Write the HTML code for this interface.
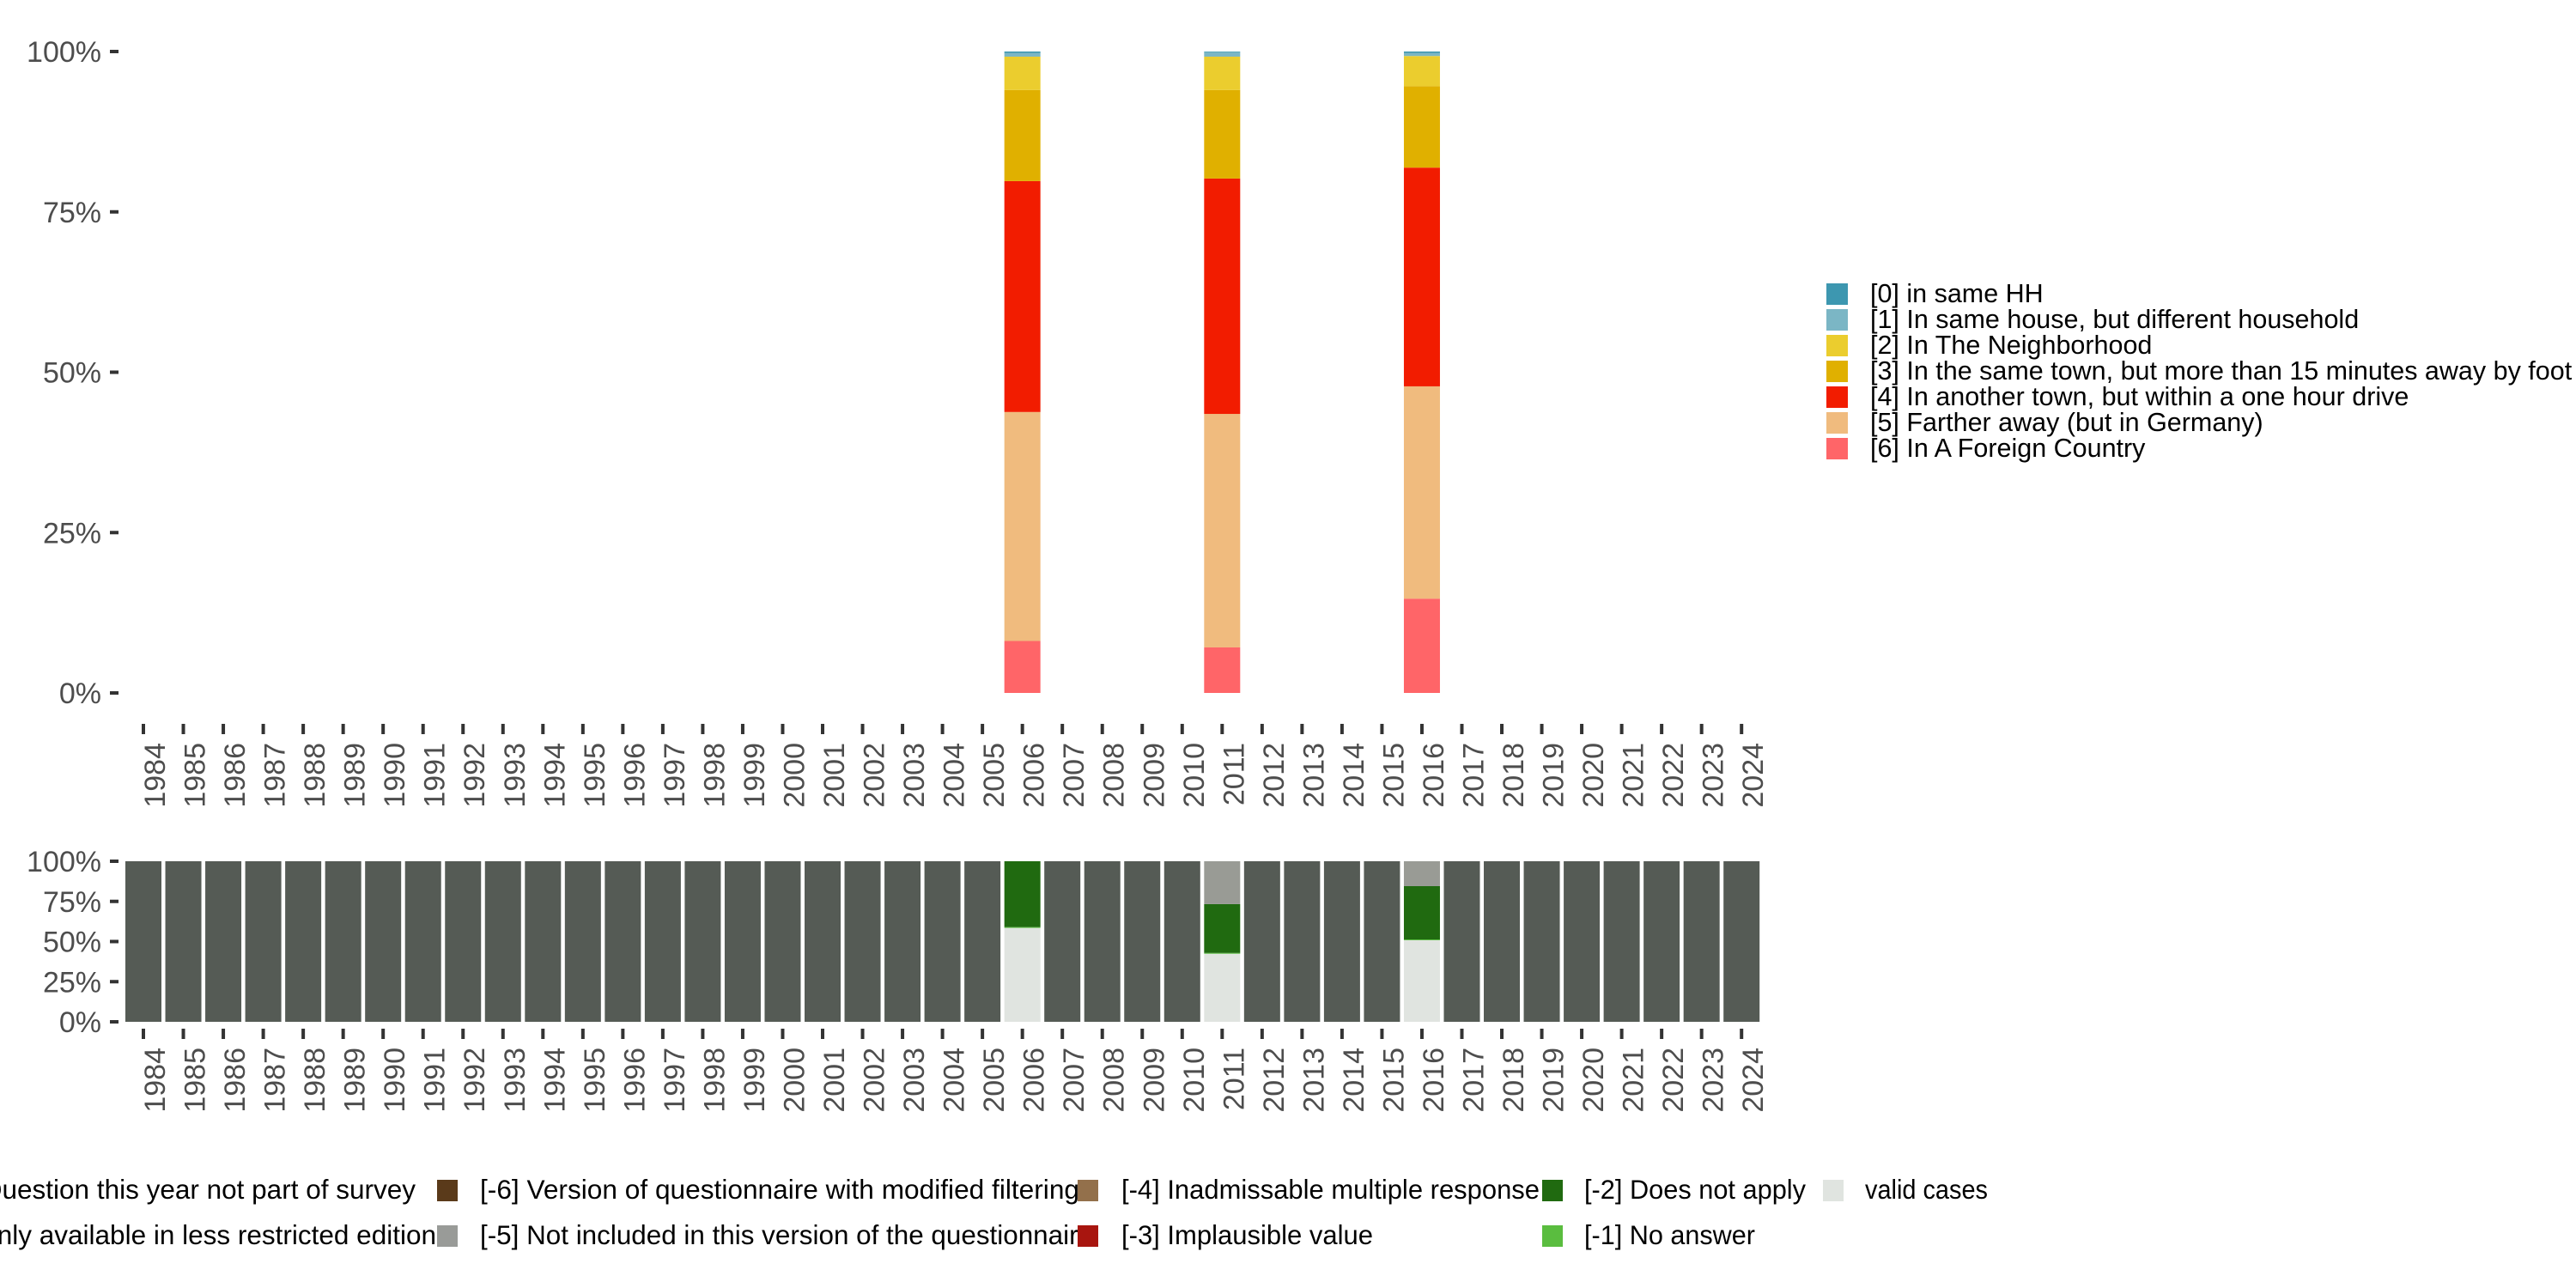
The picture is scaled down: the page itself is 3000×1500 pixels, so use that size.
<!DOCTYPE html>
<html><head><meta charset="utf-8">
<style>
html,body{margin:0;padding:0;background:#fff;}
svg{display:block;font-family:"Liberation Sans",sans-serif;}
</style></head>
<body>
<svg id="chart" width="3000" height="1500" viewBox="0 0 3000 1500" xmlns="http://www.w3.org/2000/svg">
<g id="top"></g>
<g id="bottom"></g>
<g id="legTop"></g>
<g id="legBot"></g>
</svg>
<script>
const years = [];
for (let y = 1984; y <= 2024; y++) years.push(y);
const yTicks = [0, 25, 50, 75, 100];
const yTickLabels = ["0%", "25%", "50%", "75%", "100%"];

// Top chart: answer categories (stacked bottom -> top: [6] ... [0])
const topYears = [2006, 2011, 2016];
const cat6 = [8.1, 7.1, 14.7];
const cat5 = [35.7, 36.4, 33.1];
const cat4 = [36.0, 36.7, 34.1];
const cat3 = [14.2, 13.8, 12.7];
const cat2 = [5.2, 5.2, 4.7];
const cat1 = [0.6, 0.7, 0.5];
const cat0 = [0.2, 0.1, 0.2];
const topLabels = ["[0] in same HH","[1] In same house, but different household","[2] In The Neighborhood","[3] In the same town, but more than 15 minutes away by foot","[4] In another town, but within a one hour drive","[5] Farther away (but in Germany)","[6] In A Foreign Country"];
const topColors = ["#3d97b0","#7bb6c5","#ebcd2e","#e0b000","#f21c00","#f0bb7e","#ff6568"];

// Bottom chart: missing-code shares
const validShare = [58.5, 42.4, 50.8];
const noAnswer = [0.5, 0.5, 0.5];
const doesNotApply = [41.0, 30.4, 33.2];
const notIncluded = [0.0, 26.7, 15.5];

const NS = "http://www.w3.org/2000/svg";
function el(tag, attrs, parent, text) {
  const e = document.createElementNS(NS, tag);
  for (const k in attrs) e.setAttribute(k, attrs[k]);
  if (text !== undefined) e.textContent = text;
  parent.appendChild(e);
  return e;
}
const xScale = i => 167 + i * 46.53;
const barW = 42;
function yTop(v) { return 807 - v / 100 * 747; }
function yBot(v) { return 1190 - v / 100 * 187; }

function axes(g, yScale, tickY0, tickY1, textEnd, prefix) {
  yTicks.forEach((t, i) => {
    const y = yScale(t);
    const tk = el("rect", {x:128, y:y-2, width:10, height:4, fill:"#333"}, g);
    
    
    const tx = el("text", {x:118, y:y+12, "text-anchor":"end", "font-size":34, fill:"#4d4d4d"}, g, yTickLabels[i]);
    
    
  });
  years.forEach((yr, i) => {
    const cx = xScale(i);
    const tk = el("rect", {x:cx-2, y:tickY0, width:4, height:tickY1-tickY0, fill:"#333"}, g);
    
    
    const tx = el("text", {x:0, y:0, "text-anchor":"end", "font-size":34, fill:"#4d4d4d",
      transform:`translate(${cx+25},${textEnd}) rotate(-90)`}, g, String(yr));
    
    
  });
}

// Top chart
const gT = document.getElementById("top");
axes(gT, yTop, 843, 855, 865, "top");
const topSeries = [cat6, cat5, cat4, cat3, cat2, cat1, cat0];
const topSeriesColors = [topColors[6], topColors[5], topColors[4], topColors[3], topColors[2], topColors[1], topColors[0]];
topYears.forEach((yr, j) => {
  const i = years.indexOf(yr);
  let cum = 0;
  topSeries.forEach((s, k) => {
    const v = s[j];
    const r = el("rect", {x:xScale(i)-barW/2, y:yTop(cum+v), width:barW, height:yTop(cum)-yTop(cum+v), fill:topSeriesColors[k]}, gT);
    
    
    cum += v;
  });
});

// Bottom chart
const gB = document.getElementById("bottom");
axes(gB, yBot, 1198, 1210, 1220, "bottom");
years.forEach((yr, i) => {
  const j = topYears.indexOf(yr);
  const x = xScale(i) - barW/2;
  if (j < 0) {
    const r = el("rect", {x:x, y:yBot(100), width:barW, height:yBot(0)-yBot(100), fill:"#555b55"}, gB);
    
    
    return;
  }
  const segs = [[validShare[j], "#e0e4e0"], [noAnswer[j], "#55bb3a"], [doesNotApply[j], "#206a10"], [notIncluded[j], "#999b95"]];
  let cum = 0;
  segs.forEach(([v, c], k) => {
    if (v <= 0) return;
    const r = el("rect", {x:x, y:yBot(cum+v), width:barW, height:yBot(cum)-yBot(cum+v), fill:c}, gB);
    
    
    cum += v;
  });
});

// Top legend
const gL = document.getElementById("legTop");
topLabels.forEach((lab, i) => {
  const cy = 342 + i * 30;
  const r = el("rect", {x:2127, y:cy-12, width:25, height:25, fill:topColors[i]}, gL);
  
  
  const t = el("text", {x:2178, y:cy+10, "font-size":30.5, fill:"#000"}, gL, lab);
  
  
});

// Bottom legend
const gM = document.getElementById("legBot");
const botItems = [
  [null, "[-8] Question this year not part of survey", null, 484, 0, 0],
  [null, "[-7] Only available in less restricted edition", null, 508, 1, 0],
  ["#5a3a1a", "[-6] Version of questionnaire with modified filtering", 509, 559, 0, 698],
  ["#999b98", "[-5] Not included in this version of the questionnaire", 509, 559, 1, 714],
  ["#93704b", "[-4] Inadmissable multiple response", 1255, 1306, 0, 487],
  ["#a8150f", "[-3] Implausible value", 1255, 1306, 1, 293],
  ["#206a10", "[-2] Does not apply", 1796, 1845, 0, 258],
  ["#5abd3f", "[-1] No answer", 1796, 1845, 1, 199],
  ["#e0e4e0", "valid cases", 2123, 2172, 0, 143]
];
botItems.forEach(([c, lab, sx, tx, row, w]) => {
  const cy = row === 0 ? 1386 : 1439;
  if (c) {
    const r = el("rect", {x:sx, y:cy-12, width:24, height:25, fill:c}, gM);
    
    
  }
  const attrs = {x:tx, y:cy+10, "font-size":31.5, fill:"#000"};
  if (c === null) attrs["text-anchor"] = "end";
  if (w) { attrs["textLength"] = w; attrs["lengthAdjust"] = "spacingAndGlyphs"; }
  const t = el("text", attrs, gM, lab);
  
  
});
</script>
</body></html>
